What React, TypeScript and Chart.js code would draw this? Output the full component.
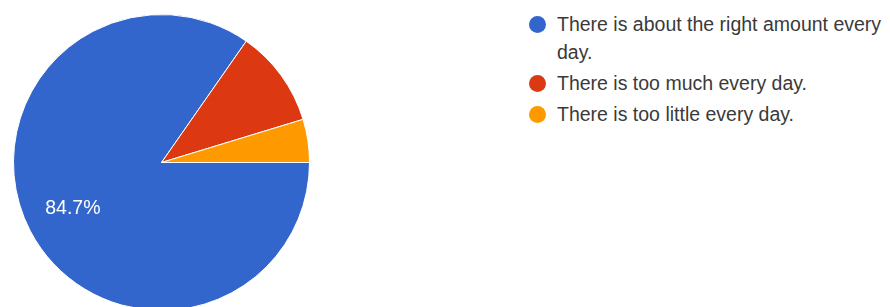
import React, { useEffect, useRef } from "react";
import { Chart, registerables } from "chart.js";

Chart.register(...registerables);

const categories: string[] = [
  "There is about the right amount every day.",
  "There is too much every day.",
  "There is too little every day.",
];
const counts: number[] = [72, 9, 4];
const colors: string[] = ["#3366cc", "#dc3912", "#ff9900"];

const FONT = "'Liberation Sans', Arial, sans-serif";

const sliceLabelPlugin = {
  id: "sliceLabels",
  afterDatasetsDraw(chart: any) {
    const ctx = chart.ctx;
    const meta = chart.getDatasetMeta(0);
    const data = chart.data.datasets[0].data as number[];
    const total = data.reduce((a, b) => a + b, 0);
    meta.data.forEach((arc: any, i: number) => {
      const pct = (data[i] / total) * 100;
      if (pct < 15) return;
      const { x, y, startAngle, endAngle, outerRadius } = arc.getProps(
        ["x", "y", "startAngle", "endAngle", "outerRadius"],
        true
      );
      const mid = (startAngle + endAngle) / 2;
      const r = outerRadius * 0.675;
      ctx.save();
      ctx.fillStyle = "#ffffff";
      ctx.font = `19.5px ${FONT}`;
      ctx.textAlign = "center";
      ctx.textBaseline = "middle";
      ctx.fillText(pct.toFixed(1) + "%", x + Math.cos(mid) * r, y + Math.sin(mid) * r);
      ctx.restore();
    });
  },
};

export default function App() {
  const canvasRef = useRef<HTMLCanvasElement | null>(null);

  useEffect(() => {
    if (!canvasRef.current) return;
    const chart = new Chart(canvasRef.current, {
      type: "pie",
      data: {
        labels: categories,
        datasets: [
          {
            data: counts,
            backgroundColor: colors,
            borderColor: "#ffffff",
            borderWidth: 1,
          },
        ],
      },
      options: {
        animation: false,
        responsive: false,
        maintainAspectRatio: false,
        rotation: 90,
        layout: { padding: 0 },
        plugins: {
          legend: { display: false },
          tooltip: { enabled: false },
        },
      },
      plugins: [sliceLabelPlugin],
    });
    return () => chart.destroy();
  }, []);

  return (
    <div
      style={{
        position: "fixed",
        left: 0,
        top: 0,
        width: 890,
        height: 307,
        overflow: "hidden",
        background: "#ffffff",
      }}
    >
      <canvas
        ref={canvasRef}
        width={297}
        height={297}
        style={{ position: "absolute", left: 13, top: 14, width: 297, height: 297 }}
      />
      <div
        style={{
          position: "absolute",
          left: 529,
          top: 10,
          width: 361,
          fontFamily: FONT,
          fontSize: 19.5,
          lineHeight: "28px",
          color: "#3a3a3a",
        }}
      >
        {categories.map((c, i) => (
          <div key={c} style={{ display: "flex", alignItems: "flex-start", marginBottom: 3 }}>
            <span
              style={{
                flex: "0 0 auto",
                width: 17,
                height: 17,
                borderRadius: "50%",
                background: colors[i],
                marginTop: 5.5,
                marginRight: 11,
              }}
            />
            <span style={{ flex: "1 1 auto" }}>{c}</span>
          </div>
        ))}
      </div>
    </div>
  );
}
